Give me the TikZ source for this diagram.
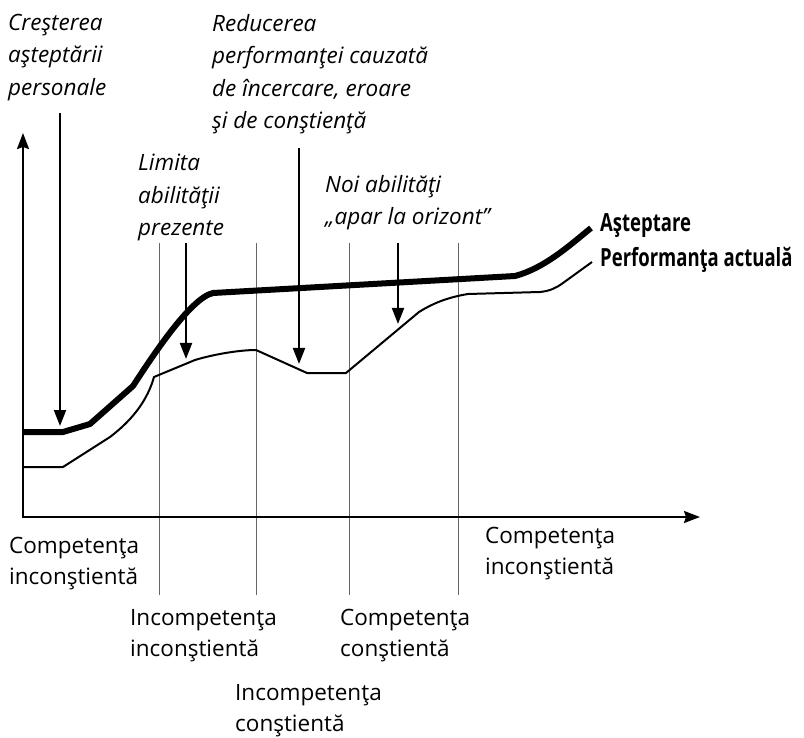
\documentclass[tikz,border=0pt]{standalone}
\usepackage{fontspec}
\setmainfont{Open Sans}
\newfontfamily\condbold[FakeStretch=0.74]{Open Sans}
\usetikzlibrary{arrows.meta}
\tikzset{>={Stealth[length=16pt,width=12pt,inset=2pt]},
 every node/.style={inner sep=0pt,align=left,anchor=north west,font=\fontsize{22.5}{31}\selectfont},
 note/.style={font=\fontsize{22.5}{32.5}\selectfont\itshape},
 curvelbl/.style={anchor=base west,font=\condbold\fontsize{25}{30}\selectfont\bfseries},
 axis/.style={line width=2pt,<->},
 pointer/.style={line width=2pt,-{Triangle[length=16pt,width=12pt]}},
 stage/.style={line width=1pt,black!60},
 expect/.style={line width=6pt,line join=round},
 actual/.style={line width=2pt,line join=round}}

\begin{document}
\begin{tikzpicture}[x=1pt,y=-1pt]
\useasboundingbox (0,0) rectangle (804,738);
% axe
\coordinate (O) at (23,517);
\coordinate (ytop) at (23,133);
\coordinate (xend) at (700,517);
% etape
\foreach \x in {159,256,349,458} \draw[stage] (\x,243) -- (\x,595);
\draw[axis] (ytop) -- (O) -- (xend);
% curbe
\draw[expect] (23,432) -- (63,432) -- (90,424) -- (133,386) .. controls (150,360) and (190,298) .. (213,293)
 -- (515,276) .. controls (545,268) and (570,245) .. (591,228);
\draw[actual] (23,467) -- (63,467) -- (110,437) .. controls (135,418) and (148,398) .. (154,377) -- (195,360)
 .. controls (215,354) and (240,350) .. (256,350) -- (307,373) -- (346,373) -- (419,312)
 .. controls (435,302) and (450,297) .. (468,294) -- (540,292) .. controls (550,291) and (556,288) .. (563,283) -- (592,262);
\node[curvelbl] (astept) at (600,232) {Aşteptare};
\node[curvelbl] (perf) at (600,267) {Performanţa actuală};
% note
\node[note] (crestere) at (8,14) {Creşterea\\aşteptării\\personale};
\node[note] (reducere) at (212,14) {Reducerea\\performanţei cauzată\\de încercare, eroare\\şi de conştienţă};
\node[note] (limita) at (138,154) {Limita\\abilităţii\\prezente};
\node[note] (noi) at (325,175) {Noi abilităţi\\„apar la orizont"};
\coordinate (p1a) at (60,113); \coordinate (p1b) at (60,426);
\coordinate (p2a) at (186,243); \coordinate (p2b) at (186,359);
\coordinate (p3a) at (299,148); \coordinate (p3b) at (299,364);
\coordinate (p4a) at (398,243); \coordinate (p4b) at (398,324);
\draw[pointer] (p1a) -- (p1b);
\draw[pointer] (p2a) -- (p2b);
\draw[pointer] (p3a) -- (p3b);
\draw[pointer] (p4a) -- (p4b);
% etichete
\node (ci1) at (9,537) {Competenţa\\inconştientă};
\node (ii) at (130,609) {Incompetenţa\\inconştientă};
\node (ic) at (235,684) {Incompetenţa\\conştientă};
\node (cc) at (340,609) {Competenţa\\conştientă};
\node (ci2) at (485,527) {Competenţa\\inconştientă};
\end{tikzpicture}
\end{document}
